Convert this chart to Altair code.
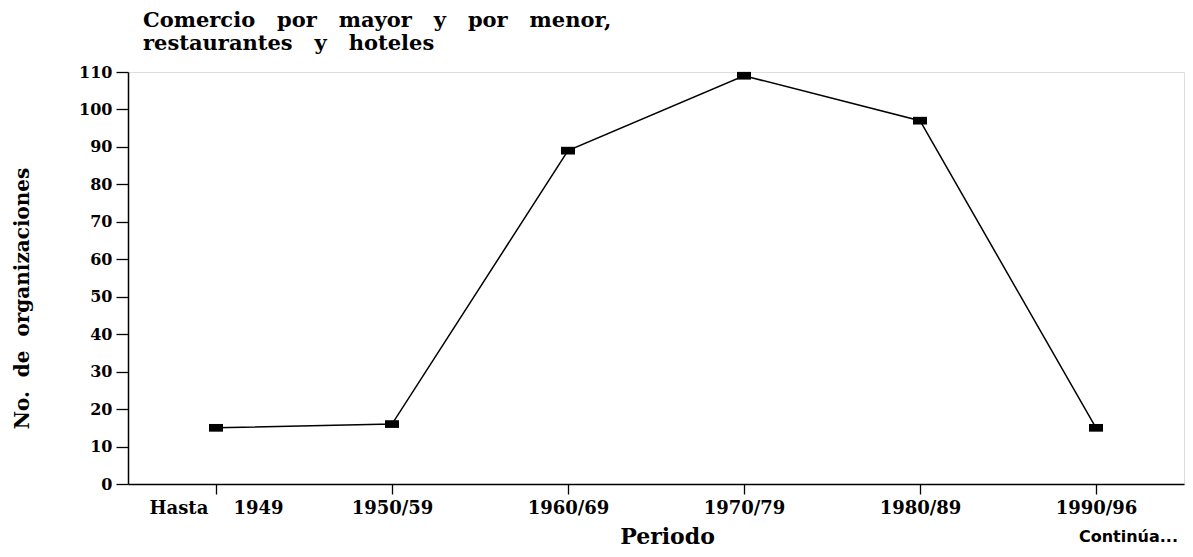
import altair as alt
import pandas as pd

NB = "\u00a0"
periodos = ["Hasta" + NB * 4 + "1949", "1950/59", "1960/69", "1970/79", "1980/89", "1990/96"]
organizaciones = [15, 16, 89, 109, 97, 15]
y_ticks = [0, 10, 20, 30, 40, 50, 60, 70, 80, 90, 100, 110]
titulo = [
    (NB * 3).join(["Comercio", "por", "mayor", "y", "por", "menor,"]),
    (NB * 3).join(["restaurantes", "y", "hoteles"]),
]
titulo_y = (NB * 2).join(["No.", "de", "organizaciones"])
nota_txt = ["Continúa..."]

df = pd.DataFrame({"periodo": periodos, "n": organizaciones})

SERIF = "DejaVu Serif"

x_enc = alt.X(
    "periodo:N",
    sort=periodos,
    scale=alt.Scale(type="point", padding=0.5),
    axis=alt.Axis(
        title="Periodo",
        titleFont=SERIF, titleFontSize=22, titleFontWeight="bold", titleColor="black",
        titleX=539, titleY=59, titleBaseline="alphabetic", titleAlign="center",
        labelFont=SERIF, labelFontSize=18, labelFontWeight="bold", labelColor="black",
        labelAngle=0, labelPadding=5,
        tickSize=10, tickColor="black", tickWidth=1.3,
        domainColor="black", domainWidth=1.5,
        grid=False,
    ),
)
y_enc = alt.Y(
    "n:Q",
    scale=alt.Scale(domain=[0, 110], nice=False),
    axis=alt.Axis(
        title=titulo_y,
        titleFont=SERIF, titleFontSize=20, titleFontWeight="bold", titleColor="black",
        titleAngle=-90, titleX=-106, titleY=226, titleAlign="center", titleBaseline="middle",
        labelFont=SERIF, labelFontSize=16, labelFontWeight="bold", labelColor="black",
        labelPadding=4,
        values=y_ticks,
        tickSize=12, tickColor="black", tickWidth=1.3,
        domainColor="black", domainWidth=1.5,
        grid=False,
    ),
)

base = alt.Chart(df)
line = base.mark_line(color="black", strokeWidth=1.5).encode(x=x_enc, y=y_enc)
points = base.mark_point(
    shape="M-1,-0.55L1,-0.55L1,0.55L-1,0.55Z",
    size=196, filled=True, color="black", opacity=1,
).encode(x=x_enc, y=y_enc)

nota = alt.Chart(pd.DataFrame({"t": nota_txt})).mark_text(
    font="DejaVu Sans", fontSize=16, fontWeight="bold", align="right", baseline="middle", color="black"
).encode(text="t:N", x=alt.value(1050), y=alt.value(465))

chart = alt.layer(line, points, nota).properties(
    width=1056,
    height=412,
    title=alt.TitleParams(
        text=titulo,
        font=SERIF, fontSize=21, fontWeight="bold", color="black",
        anchor="start", frame="group", dx=15, offset=10, lineHeight=23,
    ),
    autosize=alt.AutoSizeParams(type="none"),
    padding={"left": 120, "top": 64, "right": 1, "bottom": 64},
).configure_view(stroke="black", strokeWidth=1.5).configure(background="white")

chart.save("out.html", embed_options={"renderer": "svg", "actions": False})
